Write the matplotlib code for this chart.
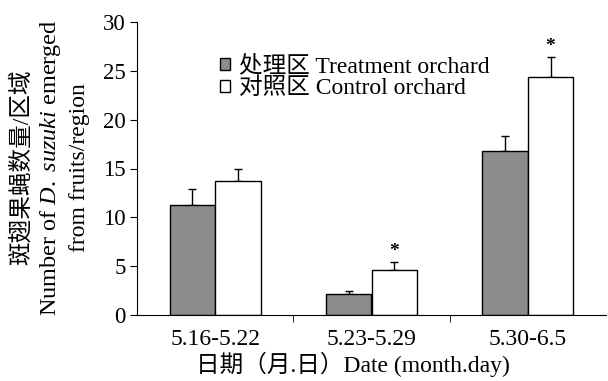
import matplotlib.pyplot as plt
import numpy as np

plt.rcParams['font.family'] = ['Liberation Serif', 'Noto Sans CJK SC']
plt.rcParams['mathtext.fontset'] = 'custom'
plt.rcParams['mathtext.rm'] = 'Liberation Serif'
plt.rcParams['mathtext.it'] = 'Liberation Serif:italic'

periods = ['5.16-5.22', '5.23-5.29', '5.30-6.5']
treatment = [11.3, 2.1, 16.8]
treatment_err = [1.6, 0.4, 1.5]
control = [13.7, 4.6, 24.4]
control_err = [1.3, 0.8, 2.0]
significant = [False, True, True]

fig = plt.figure(figsize=(6.08, 3.81), dpi=100)
ax = fig.add_axes([137 / 608, 1 - 315 / 381, 469 / 608, 293 / 381])

x = np.arange(len(periods))
w = 0.29
ax.bar(x - w / 2, treatment, w, color='#8c8c8c', edgecolor='black', linewidth=1,
       label='处理区 Treatment orchard', zorder=2)
ax.bar(x + w / 2, control, w, color='white', edgecolor='black', linewidth=1,
       label='对照区 Control orchard', zorder=2)
ax.errorbar(x - w / 2, treatment, yerr=[np.zeros(3), treatment_err], fmt='none',
            ecolor='black', elinewidth=1, capsize=3, capthick=1, zorder=1)
ax.errorbar(x + w / 2, control, yerr=[np.zeros(3), control_err], fmt='none',
            ecolor='black', elinewidth=1, capsize=3, capthick=1, zorder=1)

# significance stars
for i in range(len(periods)):
    if significant[i]:
        ax.text(x[i] + w / 2, control[i] + control_err[i] + 0.2, '*', ha='center',
                va='bottom', fontsize=14, fontweight='bold')

ax.set_xlim(-0.5, 2.5)
ax.set_ylim(0, 30)
ax.set_yticks(range(0, 31, 5))
ax.set_xticks(x)
ax.set_xticklabels(periods)
ax.set_xticks([0.5, 1.5], minor=True)
ax.tick_params(axis='x', which='major', length=0, pad=10, labelsize=17)
ax.tick_params(axis='x', which='minor', length=5, direction='out')
ax.tick_params(axis='y', length=5, direction='out', labelsize=16.5, pad=3)
ax.spines['top'].set_visible(False)
ax.spines['right'].set_visible(False)

ax.set_xlabel('日期（月.日）Date (month.day)', fontsize=17)
ax.xaxis.set_label_coords(0.46, -0.125)

fig.text(22 / 608, 0.56, '斑翅果蝇数量/区域', rotation=90, ha='center', va='center', fontsize=17)
fig.text(51 / 608, 0.56, r'Number of $D.\ suzuki$ emerged', rotation=90, ha='center',
         va='center', fontsize=17.5)
fig.text(80 / 608, 0.56, 'from fruits/region', rotation=90, ha='center', va='center', fontsize=17)

ax.legend(loc='upper left', bbox_to_anchor=(0.151, 0.925), frameon=False, fontsize=17,
          handlelength=0.42, handleheight=0.42, handletextpad=0.42, labelspacing=0.0,
          borderpad=0)

plt.savefig('out.png')
